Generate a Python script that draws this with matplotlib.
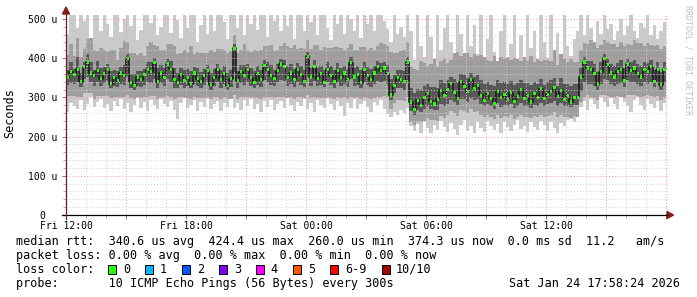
# Smokeping style latency chart (RRDtool look)

import numpy as np
import matplotlib
matplotlib.use('Agg')
import matplotlib.pyplot as plt
from matplotlib.patches import Polygon, Rectangle
from matplotlib.lines import Line2D

# Constants
W, H = 697, 297           # output size in pixels
STEP_H = 10 / 60          # one sample every 10 minutes, starting Fri 12:00
MONO = 'DejaVu Sans Mono'

# Median rtt per step (microseconds)
MEDIAN = [
    352, 365, 358, 372, 340, 378, 390, 362, 355, 368,
    348, 360, 372, 335, 350, 342, 362, 355, 400, 338,
    330, 352, 345, 358, 372, 365, 388, 340, 362, 350,
    385, 372, 345, 338, 358, 342, 350, 335, 362, 348,
    340, 355, 368, 332, 350, 372, 345, 360, 330, 348,
    425, 342, 365, 355, 372, 350, 338, 360, 345, 382,
    370, 355, 348, 368, 385, 378, 350, 362, 345, 372,
    358, 340, 405, 352, 378, 348, 360, 338, 372, 355,
    340, 368, 350, 362, 345, 388, 352, 358, 337, 372,
    355, 345, 362, 378, 368, 375, 360, 306, 330, 350,
    345, 340, 390,
    288, 268, 293, 280, 300, 310, 290, 283, 295, 318,
    305, 320, 335, 312, 298, 340, 328, 315, 345, 322,
    330, 305, 292, 310, 298, 285, 315, 300, 308, 295,
    312, 290, 302, 320, 298, 305, 288, 310, 300, 322,
    296, 308, 315, 325, 302, 318, 295, 305, 288, 300,
    300, 352, 390, 375, 372, 360, 332, 365, 400,
    383, 362, 352, 367, 372, 344, 385, 368, 375, 360,
    352, 372, 365, 378, 340, 370, 332, 372,
]

# Fastest and slowest of the 10 pings per step (microseconds)
PING_MIN = [
    262, 285, 278, 270, 292, 268, 282, 300, 275, 288,
    296, 272, 284, 266, 290, 278, 295, 270, 286, 262,
    280, 298, 274, 288, 265, 292, 280, 270, 296, 284,
    275, 290, 268, 245, 286, 298, 272, 280, 294, 266,
    288, 276, 295, 270, 282, 290, 264, 286, 276, 298,
    272, 285, 268, 292, 278, 296, 270, 284, 262, 290,
    276, 294, 268, 282, 290, 272, 298, 280, 266, 288,
    278, 295, 270, 286, 262, 292, 280, 274, 296, 284,
    268, 290, 278, 252, 286, 272, 296, 270, 284, 290,
    276, 262, 288, 280, 294, 270, 258, 250, 262, 255,
    268, 260, 272,
    228, 215, 232, 210, 238, 222, 208, 230, 218, 240,
    225, 212, 235, 220, 205, 230, 242, 215, 228, 210,
    236, 222, 212, 240, 226, 218, 232, 210, 238, 224,
    214, 230, 242, 220, 228, 212, 236, 225, 218, 240,
    230, 215, 238, 222, 210, 235, 226, 242, 245, 238,
    262, 275, 290, 268, 296, 282, 270, 300, 288,
    276, 298, 284, 270, 305, 288, 278, 262, 292, 300,
    280, 268, 296, 284, 272, 290, 265, 285,
]
PING_MAX = [
    462, 510, 510, 478, 510, 495, 510, 448, 510, 510,
    470, 510, 488, 455, 510, 510, 466, 500, 510, 482,
    510, 446, 472, 510, 510, 490, 510, 458, 480, 510,
    510, 465, 510, 498, 452, 510, 476, 510, 510, 440,
    485, 510, 462, 510, 470, 510, 510, 492, 450, 510,
    510, 478, 510, 460, 510, 488, 510, 472, 510, 510,
    455, 510, 495, 510, 468, 510, 482, 510, 448, 510,
    510, 470, 510, 492, 510, 458, 510, 510, 476, 445,
    510, 488, 510, 462, 510, 500, 470, 510, 452, 510,
    486, 510, 468, 510, 510, 495, 475, 440, 510, 462,
    480, 455, 510,
    470, 395, 510, 430, 402, 510, 455, 388, 510, 420,
    478, 510, 440, 405, 510, 462, 398, 510, 430, 485,
    410, 510, 392, 448, 510, 415, 380, 470, 510, 402,
    435, 510, 398, 460, 385, 510, 425, 470, 395, 510,
    442, 400, 510, 418, 465, 390, 510, 432, 405, 448,
    470, 510, 460, 510, 478, 440, 495, 462, 510,
    475, 488, 445, 470, 500, 458, 482, 510, 468, 452,
    490, 476, 510, 460, 485, 448, 470, 492,
]

# Spread of the middle pings around the median (microseconds)
MID_UP = [
    55, 72, 48, 80, 62, 45, 58, 90, 66, 50,
    78, 60, 44, 85, 70, 52, 64, 88, 42, 74,
    82, 56, 68, 48, 60, 76, 45, 92, 58, 70,
    50, 64, 86, 72, 55, 80, 62, 95, 48, 68,
    74, 58, 46, 88, 66, 52, 78, 60, 84, 70,
    35, 72, 56, 80, 50, 66, 84, 58, 76, 48,
    62, 78, 70, 54, 45, 60, 82, 64, 88, 52,
    68, 84, 40, 72, 56, 86, 62, 90, 54, 70,
    88, 60, 76, 58, 82, 48, 70, 64, 92, 56,
    66, 80, 58, 52, 70, 60, 72, 110, 84, 62,
    74, 80, 50,
    90, 105, 78, 112, 88, 70, 96, 115, 82, 74,
    92, 68, 60, 100, 118, 65, 84, 98, 58, 88,
    76, 104, 112, 86, 95, 120, 78, 102, 90, 108,
    84, 110, 96, 72, 106, 88, 118, 80, 98, 70,
    100, 86, 78, 95, 80, 92, 104, 84, 110, 90,
    90, 70, 48, 62, 75, 82, 95, 68, 45,
    58, 74, 85, 62, 70, 88, 52, 66, 72, 80,
    86, 60, 74, 56, 90, 64, 92, 60,
]
MID_DN = [
    48, 62, 55, 70, 38, 66, 80, 52, 58, 64,
    45, 56, 68, 36, 50, 42, 60, 54, 95, 40,
    35, 52, 46, 58, 70, 62, 85, 44, 60, 50,
    82, 70, 48, 40, 58, 44, 52, 38, 62, 50,
    42, 56, 66, 35, 50, 72, 48, 60, 34, 52,
    120, 46, 64, 55, 72, 50, 40, 62, 48, 80,
    68, 55, 50, 66, 84, 76, 52, 60, 48, 70,
    58, 42, 100, 54, 76, 50, 62, 40, 70, 56,
    44, 66, 52, 62, 48, 86, 54, 58, 40, 70,
    56, 48, 64, 76, 66, 72, 60, 35, 45, 58,
    52, 50, 90,
    50, 38, 55, 44, 60, 62, 48, 40, 56, 65,
    58, 66, 70, 52, 45, 72, 62, 55, 75, 60,
    64, 50, 42, 56, 48, 40, 60, 52, 55, 46,
    58, 44, 52, 64, 48, 55, 40, 58, 50, 66,
    46, 55, 60, 62, 52, 62, 45, 54, 40, 48,
    50, 65, 90, 70, 72, 62, 40, 60, 95,
    80, 60, 52, 64, 70, 45, 78, 62, 70, 56,
    50, 68, 60, 74, 40, 66, 38, 70,
]

# Spread of the central pings around the median (microseconds)
CORE_UP = [
    18, 25, 14, 30, 22, 12, 20, 28, 16, 24,
    26, 18, 12, 32, 20, 24, 15, 28, 10, 22,
    30, 16, 22, 14, 18, 26, 12, 34, 20, 24,
    14, 20, 30, 24, 16, 28, 22, 32, 15, 26,
    24, 18, 14, 30, 22, 12, 26, 20, 32, 22,
    10, 26, 18, 28, 14, 24, 30, 20, 26, 14,
    20, 28, 22, 16, 12, 18, 30, 22, 28, 16,
    22, 30, 10, 24, 16, 28, 20, 32, 18, 24,
    30, 20, 26, 18, 28, 14, 24, 22, 32, 18,
    22, 28, 18, 14, 20, 16, 22, 40, 28, 20,
    24, 26, 12,
    35, 42, 28, 40, 30, 24, 36, 44, 30, 26,
    32, 24, 18, 34, 40, 20, 28, 35, 16, 30,
    26, 38, 42, 30, 34, 45, 28, 36, 32, 40,
    30, 42, 34, 24, 38, 32, 44, 28, 35, 26,
    36, 30, 28, 24, 28, 32, 38, 30, 42, 34,
    35, 22, 12, 18, 20, 26, 32, 24, 10,
    16, 24, 28, 20, 22, 30, 14, 22, 20, 26,
    28, 18, 22, 16, 30, 20, 32, 18,
]
CORE_DN = [
    20, 28, 24, 32, 14, 30, 38, 22, 25, 28,
    18, 24, 30, 12, 22, 16, 28, 24, 45, 14,
    12, 22, 18, 26, 32, 28, 40, 16, 26, 22,
    38, 32, 20, 14, 26, 18, 22, 12, 28, 20,
    16, 24, 30, 12, 22, 34, 20, 26, 10, 22,
    60, 18, 28, 24, 34, 20, 14, 28, 18, 38,
    32, 24, 20, 30, 40, 36, 22, 28, 18, 34,
    26, 14, 50, 22, 36, 20, 28, 12, 34, 24,
    16, 30, 22, 28, 18, 42, 24, 26, 14, 34,
    24, 18, 28, 36, 30, 34, 26, 12, 18, 26,
    22, 20, 45,
    22, 12, 26, 18, 30, 32, 20, 16, 26, 35,
    28, 36, 42, 24, 18, 44, 32, 26, 46, 30,
    34, 22, 15, 26, 20, 14, 30, 24, 28, 18,
    30, 16, 24, 34, 20, 26, 14, 30, 22, 36,
    18, 26, 30, 34, 24, 32, 16, 26, 12, 20,
    20, 35, 50, 40, 38, 30, 14, 30, 52,
    40, 28, 22, 32, 36, 18, 42, 30, 36, 26,
    22, 34, 30, 38, 14, 32, 12, 36,
]

XTICK_HOURS = [0, 6, 12, 18, 24]
XTICK_LABELS = ['Fri 12:00', 'Fri 18:00', 'Sat 00:00', 'Sat 06:00', 'Sat 12:00']
YTICK_VALUES = [0, 100, 200, 300, 400, 500]
YTICK_LABELS = ['0  ', '100 u', '200 u', '300 u', '400 u', '500 u']

LOSS_LABELS = ['0', '1', '2', '3', '4', '5', '6-9', '10/10']
LOSS_COLORS = ['#26ff00', '#00b8ff', '#0059ff', '#7e00ff', '#ff00ff',
               '#ff5500', '#ff0000', '#a10000']

LEGEND_RTT = ('median rtt:  340.6 us avg  424.4 us max  260.0 us min  '
              '374.3 us now  0.0 ms sd  11.2   am/s')
LEGEND_LOSS = 'packet loss: 0.00 % avg  0.00 % max  0.00 % min  0.00 % now'
LEGEND_PROBE = 'probe:       10 ICMP Echo Pings (56 Bytes) every 300s'
STAMP = 'Sat Jan 24 17:58:24 2026'


def fx(x):
    return x / W


def fy(y):
    return 1 - y / H


def ext(a):
    return np.append(a, a[-1])


if __name__ == '__main__':

    med = np.array(MEDIAN, dtype=float)
    n = len(med)
    for arr in (PING_MIN, PING_MAX, MID_UP, MID_DN, CORE_UP, CORE_DN):
        assert len(arr) == n, len(arr)
    edges = np.arange(n + 1) * STEP_H

    fig = plt.figure(figsize=(W / 100, H / 100), dpi=100)
    fig.patch.set_facecolor('white')
    ax = fig.add_axes([fx(66), 82 / H, 603 / W, 200 / H])

    # smoke layers, outer to inner
    ax.fill_between(edges, ext(PING_MIN), ext(PING_MAX), step='post',
                    color='#cacaca', lw=0, zorder=1.0)
    ax.fill_between(edges, ext(med - np.array(MID_DN)), ext(med + np.array(MID_UP)),
                    step='post', color='#9e9e9e', lw=0, zorder=1.1)
    ax.fill_between(edges, ext(med - np.array(CORE_DN)), ext(med + np.array(CORE_UP)),
                    step='post', color='#585858', lw=0, zorder=1.2)
    ax.step(edges, ext(med), where='post', color='#1c1c1c', lw=1.2, zorder=1.3)

    # median marks coloured by loss (all 0 here)
    ax.bar(edges[:-1] + 0.15 * STEP_H, 8, bottom=med - 4, width=0.7 * STEP_H,
           align='edge', color=LOSS_COLORS[0], lw=0, zorder=1.5)

    ax.set_xlim(0, 603 / 20)
    ax.set_ylim(0, 510)

    major_x = np.arange(0, 31, 3)
    ax.set_xticks(major_x)
    ax.set_xticklabels([XTICK_LABELS[XTICK_HOURS.index(h)] if h in XTICK_HOURS else ''
                        for h in major_x])
    ax.set_xticks(np.arange(0, 31, 1), minor=True)
    ax.set_yticks(YTICK_VALUES)
    ax.set_yticklabels(YTICK_LABELS)
    ax.set_yticks(np.arange(0, 511, 20), minor=True)

    for lab in ax.get_xticklabels() + ax.get_yticklabels():
        lab.set_family(MONO)
        lab.set_fontsize(7)
    ax.tick_params(which='major', length=3, width=0.7, color='#c06060')
    ax.tick_params(which='minor', length=2, width=0.7, color='#b0b0b0')
    ax.tick_params(axis='x', pad=1.5)
    ax.tick_params(axis='y', pad=3)

    ax.grid(which='major', color='#eaa0a0', linestyle=(0, (1, 2)), lw=0.7)
    ax.grid(which='minor', color='#d0d0d0', linestyle=(0, (1, 2)), lw=0.7)
    ax.set_axisbelow(False)
    for sp in ax.spines.values():
        sp.set_visible(False)

    # axes with arrow heads
    fig.add_artist(Line2D([fx(62), fx(667)], [fy(215), fy(215)], color='black',
                          lw=0.9, transform=fig.transFigure))
    fig.add_artist(Line2D([fx(66), fx(66)], [fy(219), fy(12)], color='#6b2020',
                          lw=0.9, transform=fig.transFigure))
    fig.add_artist(Polygon([(fx(667), fy(211.5)), (fx(673.5), fy(215)), (fx(667), fy(218.5))],
                           closed=True, color='#8b1a1a', transform=fig.transFigure))
    fig.add_artist(Polygon([(fx(62.5), fy(14)), (fx(66), fy(7)), (fx(69.5), fy(14))],
                           closed=True, color='#8b1a1a', transform=fig.transFigure))

    # labels
    fig.text(fx(10), fy(113), 'Seconds', rotation=90, family=MONO, fontsize=8.5,
             ha='center', va='center')
    fig.text(fx(688), fy(60), 'RRDTOOL / TOBI OETIKER', rotation=-90, family=MONO,
             fontsize=6, color='#c0c0c0', ha='center', va='center')

    # legend block
    fig.text(fx(16), fy(241.5), LEGEND_RTT, family=MONO, fontsize=8.5, va='center')
    fig.text(fx(16), fy(255.5), LEGEND_LOSS, family=MONO, fontsize=8.5, va='center')
    fig.text(fx(16), fy(269.5), 'loss color:', family=MONO, fontsize=8.5, va='center')
    x = 108.3
    for lab, col in zip(LOSS_LABELS, LOSS_COLORS):
        fig.add_artist(Rectangle((fx(x), fy(273.5)), 8 / W, 8.5 / H, facecolor=col,
                                 edgecolor='black', lw=0.7, transform=fig.transFigure))
        fig.text(fx(x + 14.5), fy(269.5), lab, family=MONO, fontsize=8.5, va='center')
        x += 29.9 + len(lab) * 7.1
    fig.text(fx(16), fy(283.5), LEGEND_PROBE, family=MONO, fontsize=8.5, va='center')
    fig.text(fx(680), fy(283.5), STAMP, family=MONO, fontsize=8.5, va='center', ha='right')

    fig.savefig('out.png', dpi=100)
